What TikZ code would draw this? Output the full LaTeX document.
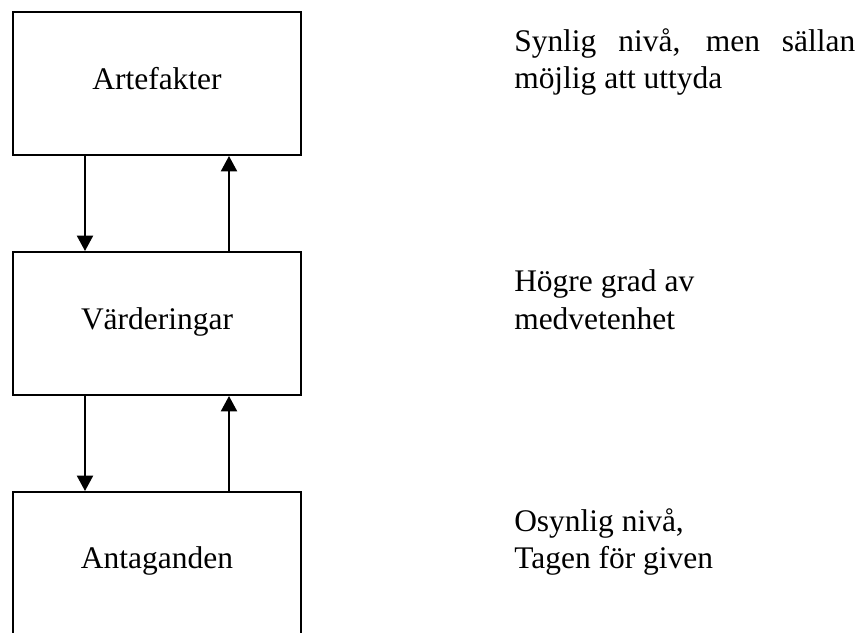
\documentclass[tikz,border=0pt]{standalone}
\usepackage{fontspec}
\setmainfont{Liberation Serif}
\usetikzlibrary{arrows.meta}
\tikzset{
  box/.style={draw=black, line width=1.5pt, minimum width=216pt, minimum height=107.25pt, inner sep=0pt},
  lbl/.style={inner sep=0pt, font=\fontsize{23.6pt}{28pt}\selectfont},
  conn/.style={line width=1.5pt, -{Triangle[length=11.5pt, width=12pt]}}
}
\begin{document}
\begin{tikzpicture}[x=0.75pt, y=-0.75pt]
\useasboundingbox (0,0) rectangle (859,632);
\clip (0,0) rectangle (859,632);
\fill[white] (0,0) rectangle (859,632);
\node[box] (b1) at (157,83.5) {};
\node[box] (b2) at (157,323.5) {};
\node[box] (b3) at (157,563.5) {};
\node[lbl, anchor=base] (l1) at (157,89) {Artefakter};
\node[lbl, anchor=base] (l2) at (157,329) {Värderingar};
\node[lbl, anchor=base] (l3) at (157,568.5) {Antaganden};
\coordinate (d1s) at (85,155); \coordinate (d1e) at (85,252);
\coordinate (u1s) at (229,252); \coordinate (u1e) at (229,155);
\coordinate (d2s) at (85,395); \coordinate (d2e) at (85,492);
\coordinate (u2s) at (229,492); \coordinate (u2e) at (229,395);
\draw[conn] (b1.south -| d1s) -- (b2.north -| d1e);
\draw[conn] (b2.north -| u1s) -- (b1.south -| u1e);
\draw[conn] (b2.south -| d2s) -- (b3.north -| d2e);
\draw[conn] (b3.north -| u2s) -- (b2.south -| u2e);
\node[lbl, anchor=base west] (r1a) at (514,51.7) {\makebox[255.75pt][s]{Synlig nivå, men sällan}};
\node[lbl, anchor=base west] (r1b) at (514,88.5) {möjlig att uttyda};
\node[lbl, anchor=base west] (r2a) at (514,291.7) {Högre grad av};
\node[lbl, anchor=base west] (r2b) at (514,329) {medvetenhet};
\node[lbl, anchor=base west] (r3a) at (514,531) {Osynlig nivå,};
\node[lbl, anchor=base west] (r3b) at (514,568.5) {Tagen för given};
\end{tikzpicture}
\end{document}
